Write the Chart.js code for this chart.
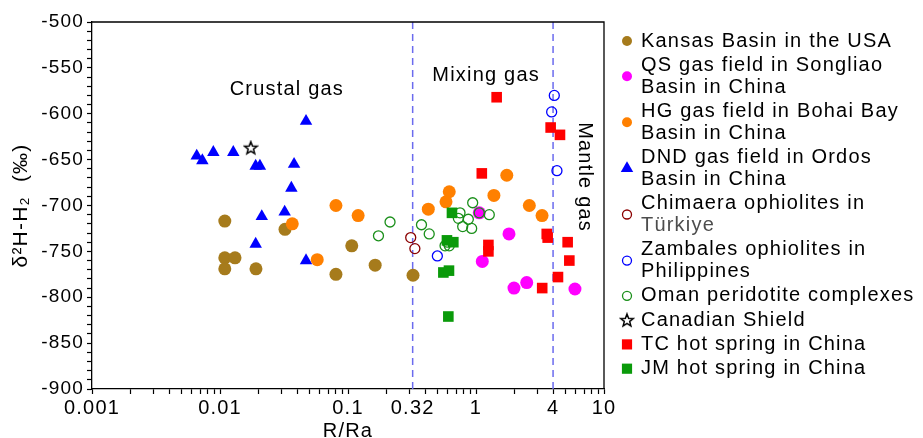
<!DOCTYPE html>
<html lang="en">
<head>
  <title>R/Ra vs δ2H-H2</title>
  <meta charset="utf-8">
  <script src="https://cdn.jsdelivr.net/npm/chart.js@4.4.1/dist/chart.umd.min.js"></script>
</head>
<style>
  body {
    margin: 0;
    background-color: #fff;
  }
  #wrap {
    width: 923px;
    height: 438px;
  }
</style>
<body>

  <div id="wrap">
    <canvas id="myChart" width="923" height="438"></canvas>
  </div>

  <script>
    // x = R/Ra, y = δ2H-H2 (‰)
    const kansasR = [0.0109, 0.0109, 0.0131, 0.0109, 0.0191, 0.0322, 0.0805, 0.107, 0.163, 0.322];
    const kansasH = [-717, -757, -757, -769, -769, -726, -775, -744, -765, -776];

    const qsR = [1.06, 1.81, 1.12, 1.98, 2.49, 5.93];
    const qsH = [-708, -731, -761, -790, -784, -791];

    const hgR = [0.0805, 0.120, 0.0367, 0.0575, 0.424, 0.583, 0.618, 1.38, 1.74, 2.61, 3.28];
    const hgH = [-700, -711, -720, -759, -704, -696, -685, -689, -667, -700, -711];

    const dndR = [0.047, 0.00658, 0.00728, 0.00887, 0.0127, 0.0190, 0.0205, 0.0379, 0.0361, 0.0320, 0.0212, 0.0190, 0.047];
    const dndH = [-608, -646, -651, -642, -642, -657, -657, -655, -681, -707, -712, -742, -760];

    const chimaeraR = [0.309, 0.333];
    const chimaeraH = [-735, -747];

    const zambalesR = [4.09, 3.90, 4.29, 0.499];
    const zambalesH = [-580, -598, -662, -755];

    const omanR = [0.213, 0.173, 0.375, 0.431, 0.942, 1.27, 0.728, 0.787, 0.871, 0.925, 1.06, 0.75, 0.573, 0.618, 0.597];
    const omanH = [-718, -733, -721, -731, -697, -710, -714, -723, -715, -725, -708, -708, -744, -744, -740];

    const canadaR = [0.0174];
    const canadaH = [-637];

    const tcR = [1.45, 1.11, 3.83, 4.53, 3.57, 3.63, 1.25, 1.25, 5.20, 5.36, 4.37, 3.29];
    const tcH = [-582, -665, -615, -623, -731, -735, -743, -750, -740, -760, -778, -790];

    const jmR = [0.649, 0.593, 0.665, 0.556, 0.615, 0.608];
    const jmH = [-708, -738, -740, -773, -771, -821];

    const xTickLabels = [0.001, 0.01, 0.1, 0.32, 1, 4, 10];
    const yTickLabels = [-900, -850, -800, -750, -700, -650, -600, -550, -500];
    const boundaries = [0.32, 4];

    const zoneLabels = ["Crustal gas", "Mixing gas", "Mantle gas"];
    const zoneR = [0.0333, 1.2, 7.1];
    const zoneH = [-574, -558, -669];

    const FONT = "'Liberation Sans', Arial, 'DejaVu Sans', sans-serif";
    Chart.defaults.font.family = FONT;
    Chart.defaults.color = "#000";

    // minor ticks: log decades on x, every 10 on y
    const xTicks = [];
    for (let e = -3; e <= 0; e++) {
      for (let m = 1; m <= 9; m++) xTicks.push(m * Math.pow(10, e));
    }
    xTicks.push(10, 0.32);
    xTicks.sort((a, b) => a - b);
    const yTicks = [];
    for (let v = yTickLabels[0]; v <= yTickLabels[yTickLabels.length - 1]; v += 10) yTicks.push(v);

    function xLabel(v) {
      const t = xTickLabels.find(t => Math.abs(t - v) / t < 1e-6);
      return t === undefined ? "" : String(t);
    }

    function makeStar() {
      const c = document.createElement("canvas");
      c.width = 16;
      c.height = 16;
      const g = c.getContext("2d");
      g.beginPath();
      for (let i = 0; i < 10; i++) {
        const r = i % 2 ? 2.8 : 6.6;
        const a = -Math.PI / 2 + i * Math.PI / 5;
        const px = 8 + r * Math.cos(a), py = 8.5 + r * Math.sin(a);
        if (i === 0) g.moveTo(px, py); else g.lineTo(px, py);
      }
      g.closePath();
      g.fillStyle = "#fff";
      g.fill();
      g.lineWidth = 1.5;
      g.strokeStyle = "#000";
      g.stroke();
      return c;
    }
    const star = makeStar();

    function pts(xs, ys) {
      return xs.map((x, i) => ({x: x, y: ys[i]}));
    }

    // label lines, colour, marker, plot radius, legend radius, filled, draw order
    const series = [
      {label: ["Kansas Basin in the USA"], data: pts(kansasR, kansasH), color: "#A67B1C", style: "circle", r: 6.5, lr: 5, fill: true, order: 9},
      {label: ["QS gas field in Songliao", "Basin in China"], data: pts(qsR, qsH), color: "#FF00FF", style: "circle", r: 6.5, lr: 5, fill: true, order: 8},
      {label: ["HG gas field in Bohai Bay", "Basin in China"], data: pts(hgR, hgH), color: "#FF8000", style: "circle", r: 6.5, lr: 5, fill: true, order: 7},
      {label: ["DND gas field in Ordos", "Basin in China"], data: pts(dndR, dndH), color: "#0000FF", style: "triangle", r: 7.2, lr: 7.2, fill: true, order: 10},
      {label: ["Chimaera ophiolites in", "Türkiye"], data: pts(chimaeraR, chimaeraH), color: "#8B0000", style: "circle", r: 5, lr: 4.5, fill: false, order: 6},
      {label: ["Zambales ophiolites in", "Philippines"], data: pts(zambalesR, zambalesH), color: "#0000FF", style: "circle", r: 5, lr: 4.5, fill: false, order: 5},
      {label: ["Oman peridotite complexes"], data: pts(omanR, omanH), color: "#1A8F1A", style: "circle", r: 5, lr: 4.5, fill: false, order: 4},
      {label: ["Canadian Shield"], data: pts(canadaR, canadaH), color: "#000", style: star, r: 6, lr: 6, fill: false, order: 3},
      {label: ["TC hot spring in China"], data: pts(tcR, tcH), color: "#FF0000", style: "rect", r: 7.5, lr: 7.2, fill: true, order: 2},
      {label: ["JM hot spring in China"], data: pts(jmR, jmH), color: "#0A9A0A", style: "rect", r: 7.5, lr: 7.2, fill: true, order: 1}
    ];

    const datasets = series.map(s => ({
      label: s.label.join(" "),
      data: s.data,
      order: s.order,
      pointStyle: s.style,
      pointRadius: s.r,
      pointHoverRadius: s.r,
      pointBackgroundColor: s.fill ? s.color : "rgba(0,0,0,0)",
      pointBorderColor: s.color,
      pointBorderWidth: s.fill ? 0 : 1.3,
      pointHoverBorderWidth: s.fill ? 0 : 1.3
    }));

    boundaries.forEach(b => {
      datasets.push({
        label: "boundary",
        data: [{x: b, y: yTickLabels[0]}, {x: b, y: yTickLabels[yTickLabels.length - 1]}],
        showLine: true,
        order: 20,
        borderColor: "#6B6BEE",
        borderWidth: 1.5,
        borderDash: [7, 5],
        pointRadius: 0,
        pointHoverRadius: 0
      });
    });

    const LH = 21.8;
    const STEP = 24.3;

    const extras = {
      id: "extras",
      beforeUpdate(chart) {
        chart.ctx.letterSpacing = "1.2px";
      },
      beforeDraw(chart) {
        chart.ctx.letterSpacing = "1.2px";
      },
      afterDatasetsDraw(chart) {
        const ctx = chart.ctx, a = chart.chartArea;
        const x = chart.scales.x, y = chart.scales.y;
        ctx.save();
        ctx.strokeStyle = "#000";
        ctx.lineWidth = 1.3;
        ctx.beginPath();
        ctx.moveTo(a.left, a.top);
        ctx.lineTo(a.right, a.top);
        ctx.lineTo(a.right, a.bottom);
        ctx.stroke();

        ctx.font = "20px " + FONT;
        ctx.fillStyle = "#000";
        ctx.textAlign = "center";
        ctx.textBaseline = "middle";
        zoneLabels.forEach((t, i) => {
          ctx.save();
          ctx.translate(x.getPixelForValue(zoneR[i]), y.getPixelForValue(zoneH[i]));
          if (i === 2) ctx.rotate(Math.PI / 2);
          ctx.fillText(t, 0, 0);
          ctx.restore();
        });
        ctx.restore();
      },
      afterDraw(chart) {
        // legend, markers centred on multi-line labels
        const ctx = chart.ctx, a = chart.chartArea;
        const mx = a.right + 23, tx = a.right + 37;
        let yy = a.top + 19;
        ctx.save();
        ctx.font = "20px " + FONT;
        ctx.textBaseline = "middle";
        ctx.textAlign = "left";
        series.forEach(s => {
          const n = s.label.length;
          ctx.fillStyle = s.fill ? s.color : "rgba(0,0,0,0)";
          ctx.strokeStyle = s.color;
          ctx.lineWidth = 1.3;
          Chart.helpers.drawPoint(ctx, {pointStyle: s.style, radius: s.lr, rotation: 0, borderWidth: s.fill ? 0 : 1.3}, mx, yy + (n - 1) * LH / 2);
          s.label.forEach((line, j) => {
            ctx.fillStyle = line === "Türkiye" ? "#4D4D4D" : "#000";
            ctx.fillText(line, tx, yy + j * LH);
          });
          yy += (n - 1) * LH + STEP;
        });
        ctx.restore();
      }
    };

    const tickColor = c => (c.tick && Math.abs(c.tick.value - 0.32) < 1e-9) ? "rgba(0,0,0,0)" : "#000";

    new Chart("myChart", {
      type: "scatter",
      data: {datasets: datasets},
      plugins: [extras],
      options: {
        responsive: false,
        animation: false,
        layout: {padding: {left: 10, right: 319, top: 22, bottom: 0}},
        plugins: {
          legend: {display: false},
          tooltip: {enabled: false}
        },
        scales: {
          x: {
            type: "logarithmic",
            min: xTickLabels[0],
            max: xTickLabels[xTickLabels.length - 1],
            afterBuildTicks: s => { s.ticks = xTicks.map(v => ({value: v})); },
            afterFit: s => { s.height = 49; },
            grid: {drawOnChartArea: false, drawTicks: true, tickLength: 5, tickWidth: 1.2, tickColor: tickColor},
            border: {display: true, color: "#000", width: 1.3},
            ticks: {autoSkip: false, maxRotation: 0, padding: 2, font: {size: 20}, color: "#000", callback: v => xLabel(v)},
            title: {display: true, text: "R/Ra", font: {size: 20, lineHeight: 1}, padding: {top: 0, bottom: -3}, color: "#000"}
          },
          y: {
            type: "linear",
            min: yTickLabels[0],
            max: yTickLabels[yTickLabels.length - 1],
            afterBuildTicks: s => { s.ticks = yTicks.map(v => ({value: v})); },
            afterFit: s => { s.width = 82; },
            grid: {drawOnChartArea: false, drawTicks: true, tickLength: 5, tickWidth: 1.2, tickColor: "#000"},
            border: {display: true, color: "#000", width: 1.3},
            ticks: {autoSkip: false, padding: 3, font: {size: 19}, color: "#000", callback: v => (yTickLabels.includes(v) ? String(v) : "")},
            title: {display: true, text: "δ²H-H₂  (‰)", font: {size: 21, lineHeight: 1}, padding: {top: 1, bottom: 0}, color: "#000"}
          }
        }
      }
    });
  </script>

</body>
</html>
